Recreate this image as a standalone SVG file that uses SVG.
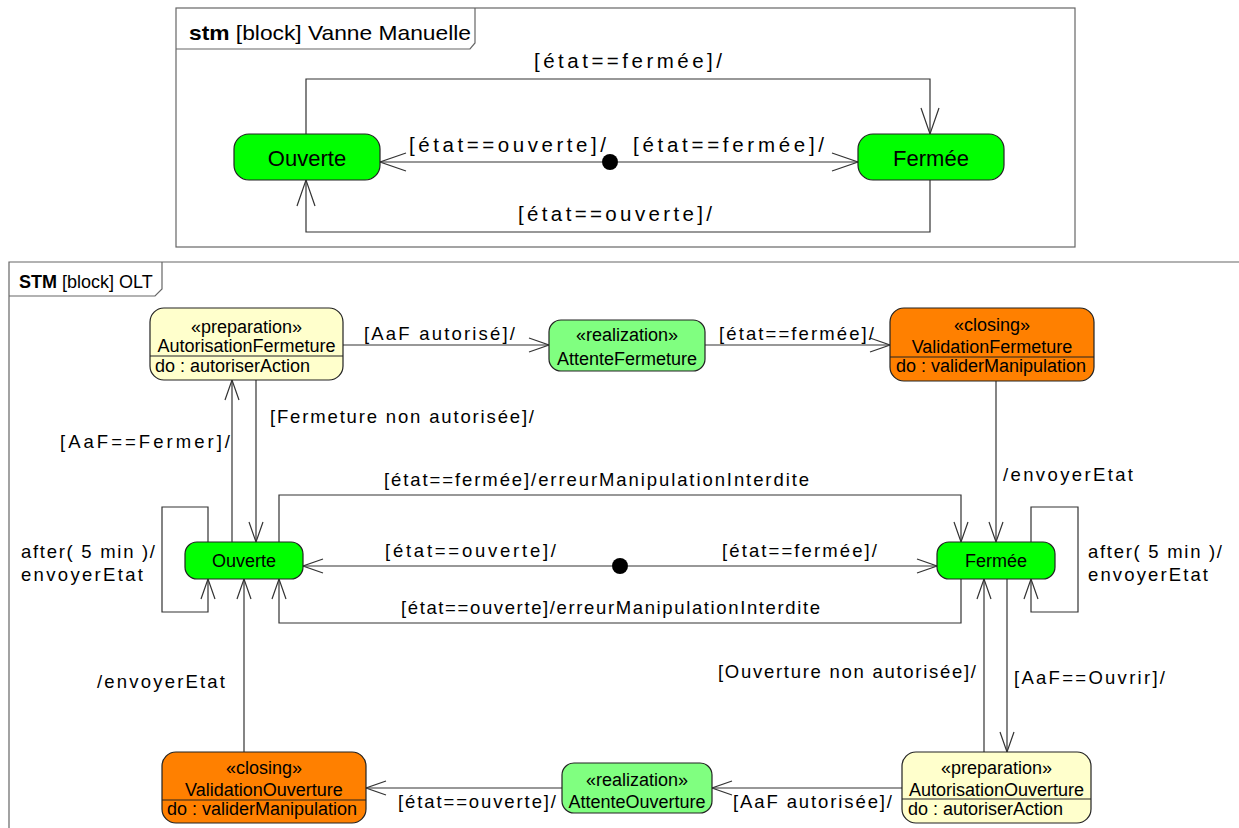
<svg xmlns="http://www.w3.org/2000/svg" width="1239" height="828" viewBox="0 0 1239 828">
<style>
text{font-family:"Liberation Sans",Arial,sans-serif;fill:#000}
.frame{fill:none;stroke:#666;stroke-width:1.2}
.st{stroke:#222;stroke-width:1.2}
.green{fill:#00FF00}
.real{fill:#80FF80}
.close{fill:#FF8000}
.prep{fill:#FFFFCC}
.div{stroke:#222;stroke-width:1.2}
.c{fill:none;stroke:#333;stroke-width:1.2}
.ca{fill:none;stroke:#333;stroke-width:1.2;marker-end:url(#arr)}
.cat{fill:none;stroke:#333;stroke-width:1.2;marker-end:url(#arrT)}
.lt{font-size:20.5px}
.lb{font-size:18.5px}
.sn{font-size:18px;text-anchor:middle}
.snt{font-size:22px;text-anchor:middle}
.dot{fill:#000}
</style>
<defs>
<marker id="arr" markerUnits="userSpaceOnUse" viewBox="-22 -10 24 20" markerWidth="24" markerHeight="20" refX="0" refY="0" orient="auto">
<path d="M-20,-7 L0,0 L-20,7" fill="none" stroke="#333" stroke-width="1.2"/>
</marker>
<marker id="arrT" markerUnits="userSpaceOnUse" viewBox="-28 -11 30 22" markerWidth="30" markerHeight="22" refX="0" refY="0" orient="auto">
<path d="M-26,-9 L0,0 L-26,9" fill="none" stroke="#333" stroke-width="1.2"/>
</marker>
</defs>

<!-- Top frame -->
<g id="frame-vanne">
<rect class="frame" x="176" y="8" width="899" height="239"/>
<path class="frame" d="M176,49 L470,49 L475,43 L475,8"/>
<text x="189" y="40" font-size="21" textLength="282" lengthAdjust="spacingAndGlyphs"><tspan font-weight="bold">stm</tspan> [block] Vanne Manuelle</text>
</g>

<g id="connectors-top">
<path class="cat" d="M602,162 L380,162"/>
<path class="cat" d="M618,162 L858,162"/>
<path class="cat" d="M306,134 L306,79 L930,79 L930,134"/>
<path class="cat" d="M930,180 L930,232 L306,232 L306,180"/>
<text class="lt" x="534" y="68" textLength="188" lengthAdjust="spacing">[état==fermée]/</text>
<text class="lt" x="409" y="152" textLength="197" lengthAdjust="spacing">[état==ouverte]/</text>
<text class="lt" x="633" y="152" textLength="191" lengthAdjust="spacing">[état==fermée]/</text>
<text class="lt" x="518" y="221" textLength="194" lengthAdjust="spacing">[état==ouverte]/</text>
</g>

<g id="t-init">
<circle class="dot" cx="610" cy="162" r="8"/>
</g>
<g id="t-ouverte">
<rect class="st green" x="234" y="134" width="146" height="46" rx="15"/>
<text class="snt" x="307" y="166">Ouverte</text>
</g>
<g id="t-fermee">
<rect class="st green" x="858" y="134" width="146" height="46" rx="15"/>
<text class="snt" x="931" y="166">Fermée</text>
</g>

<!-- Bottom frame -->
<g id="frame-olt">
<path class="frame" d="M9,828 L9,262 L1239,262"/>
<path class="frame" d="M9,296 L155,296 L162,289 L162,262"/>
<text x="19" y="288" font-size="18"><tspan font-weight="bold">STM</tspan> [block] OLT</text>
</g>

<g id="connectors-bottom">
<path class="ca" d="M343,345 L549,345"/>
<path class="ca" d="M705,345 L890,345"/>
<path class="ca" d="M996,381 L996,542"/>
<path class="ca" d="M232,542 L232,380"/>
<path class="ca" d="M256,380 L256,542"/>
<path class="ca" d="M279,542 L279,495 L961,495 L961,542"/>
<path class="ca" d="M961,579 L961,623 L279,623 L279,579"/>
<path class="ca" d="M612,566 L303,566"/>
<path class="ca" d="M628,566 L937,566"/>
<path class="ca" d="M208,542 L208,507 L162,507 L162,612 L208,612 L208,579"/>
<path class="ca" d="M1031,542 L1031,507 L1078,507 L1078,612 L1031,612 L1031,579"/>
<path class="ca" d="M1007,579 L1007,752"/>
<path class="ca" d="M984,752 L984,579"/>
<path class="ca" d="M902,788 L712,788"/>
<path class="ca" d="M562,788 L366,788"/>
<path class="ca" d="M244,752 L244,579"/>

<text class="lb" x="364" y="340" textLength="151" lengthAdjust="spacing">[AaF autorisé]/</text>
<text class="lb" x="719" y="340" textLength="155" lengthAdjust="spacing">[état==fermée]/</text>
<text class="lb" x="270" y="423" textLength="264" lengthAdjust="spacing">[Fermeture non autorisée]/</text>
<text class="lb" x="60" y="448" textLength="170" lengthAdjust="spacing">[AaF==Fermer]/</text>
<text class="lb" x="1003" y="481" textLength="130" lengthAdjust="spacing">/envoyerEtat</text>
<text class="lb" x="384" y="486" textLength="425" lengthAdjust="spacing">[état==fermée]/erreurManipulationInterdite</text>
<text class="lb" x="385" y="557" textLength="171" lengthAdjust="spacing">[état==ouverte]/</text>
<text class="lb" x="722" y="557" textLength="155" lengthAdjust="spacing">[état==fermée]/</text>
<text class="lb" x="401" y="614" textLength="419" lengthAdjust="spacing">[état==ouverte]/erreurManipulationInterdite</text>
<text class="lb" x="21" y="558" textLength="134" lengthAdjust="spacing">after( 5 min )/</text>
<text class="lb" x="21" y="581" textLength="122" lengthAdjust="spacing">envoyerEtat</text>
<text class="lb" x="1088" y="558" textLength="134" lengthAdjust="spacing">after( 5 min )/</text>
<text class="lb" x="1088" y="581" textLength="120" lengthAdjust="spacing">envoyerEtat</text>
<text class="lb" x="97" y="688" textLength="128" lengthAdjust="spacing">/envoyerEtat</text>
<text class="lb" x="718" y="678" textLength="258" lengthAdjust="spacing">[Ouverture non autorisée]/</text>
<text class="lb" x="1014" y="684" textLength="151" lengthAdjust="spacing">[AaF==Ouvrir]/</text>
<text class="lb" x="733" y="808" textLength="159" lengthAdjust="spacing">[AaF autorisée]/</text>
<text class="lb" x="398" y="808" textLength="158" lengthAdjust="spacing">[état==ouverte]/</text>
</g>

<g id="b-init">
<circle class="dot" cx="620" cy="566" r="8"/>
</g>
<g id="b-autorisationFermeture">
<rect class="st prep" x="150" y="308" width="193" height="72" rx="14"/>
<line class="div" x1="150" y1="356" x2="343" y2="356"/>
<text class="sn" x="246.5" y="333">«preparation»</text>
<text class="sn" x="246.5" y="352">AutorisationFermeture</text>
<text x="155" y="372" font-size="18">do : autoriserAction</text>
</g>
<g id="b-attenteFermeture">
<rect class="st real" x="549" y="320" width="156" height="51" rx="12"/>
<text class="sn" x="627" y="341">«realization»</text>
<text class="sn" x="627" y="365">AttenteFermeture</text>
</g>
<g id="b-validationFermeture">
<rect class="st close" x="890" y="308" width="204" height="73" rx="14"/>
<line class="div" x1="890" y1="357" x2="1094" y2="357"/>
<text class="sn" x="992" y="331">«closing»</text>
<text class="sn" x="992" y="353">ValidationFermeture</text>
<text x="896" y="372" font-size="18">do : validerManipulation</text>
</g>
<g id="b-ouverte">
<rect class="st green" x="185" y="542" width="118" height="37" rx="12"/>
<text class="sn" x="244" y="567">Ouverte</text>
</g>
<g id="b-fermee">
<rect class="st green" x="937" y="542" width="118" height="37" rx="12"/>
<text class="sn" x="996" y="567">Fermée</text>
</g>
<g id="b-autorisationOuverture">
<rect class="st prep" x="902" y="752" width="189" height="71" rx="14"/>
<line class="div" x1="902" y1="799" x2="1091" y2="799"/>
<text class="sn" x="996.5" y="774">«preparation»</text>
<text class="sn" x="996.5" y="796">AutorisationOuverture</text>
<text x="908" y="815" font-size="18">do : autoriserAction</text>
</g>
<g id="b-attenteOuverture">
<rect class="st real" x="562" y="763" width="150" height="50" rx="12"/>
<text class="sn" x="637" y="786">«realization»</text>
<text class="sn" x="637" y="808">AttenteOuverture</text>
</g>
<g id="b-validationOuverture">
<rect class="st close" x="162" y="752" width="204" height="71" rx="14"/>
<line class="div" x1="162" y1="800" x2="366" y2="800"/>
<text class="sn" x="264" y="774">«closing»</text>
<text class="sn" x="264" y="796">ValidationOuverture</text>
<text x="167" y="815" font-size="18">do : validerManipulation</text>
</g>
</svg>
